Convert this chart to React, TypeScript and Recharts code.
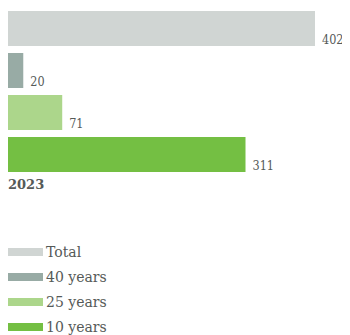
import { Bar, BarChart, LabelList, XAxis, YAxis } from 'recharts';

const CATEGORIES = ['2023'];
const SERIES = ['Total', '40 years', '25 years', '10 years'];
const VALUES = [402, 20, 71, 311];
const COLORS = ['#d0d5d3', '#98aba5', '#acd68b', '#74bf43'];

const FONT = '"DejaVu Serif", serif';
const TEXT = '#555a58';

const data = CATEGORIES.map((c) => {
  const row: Record<string, string | number> = { year: c };
  SERIES.forEach((s, i) => {
    row[s] = VALUES[i];
  });
  return row;
});

// value printed just right of the bar end, sitting on its bottom edge
const ValueLabel = (props: any) => {
  const { x, y, width, height, value } = props;
  return (
    <text
      x={x + width + 7}
      y={y + height - 2}
      fill={TEXT}
      fontSize={12.5}
      fontFamily={FONT}
      style={{ fontStretch: 'condensed' }}
    >
      {value}
    </text>
  );
};

const YearTick = (props: any) => {
  const { y, payload } = props;
  return (
    <text x={0} y={y + 97.5} fill={TEXT} fontSize={13} fontWeight="bold" fontFamily={FONT}>
      {payload.value}
    </text>
  );
};

export default function App() {
  return (
    <div style={{ width: 342, fontFamily: FONT }}>
      <style>{'html, body { overflow: hidden; }'}</style>
      <BarChart
        width={342}
        height={200}
        data={data}
        layout="vertical"
        margin={{ top: 2, right: 35, bottom: 35, left: -1 }}
        barCategoryGap={0}
        barGap={7}
      >
        <XAxis type="number" domain={[0, 402]} hide />
        <YAxis
          type="category"
          dataKey="year"
          width={1}
          axisLine={false}
          tickLine={false}
          tick={<YearTick />}
        />
        {SERIES.map((s, i) => (
          <Bar key={s} dataKey={s} fill={COLORS[i]} barSize={35} isAnimationActive={false}>
            <LabelList dataKey={s} content={<ValueLabel />} />
          </Bar>
        ))}
      </BarChart>
      <div style={{ marginTop: 31.5 }}>
        {SERIES.map((s, i) => (
          <div
            key={s}
            style={{ display: 'flex', alignItems: 'center', height: 25, color: TEXT, fontSize: 14 }}
          >
            <span style={{ width: 35, height: 8, background: COLORS[i], marginRight: 3 }} />
            {s}
          </div>
        ))}
      </div>
    </div>
  );
}
